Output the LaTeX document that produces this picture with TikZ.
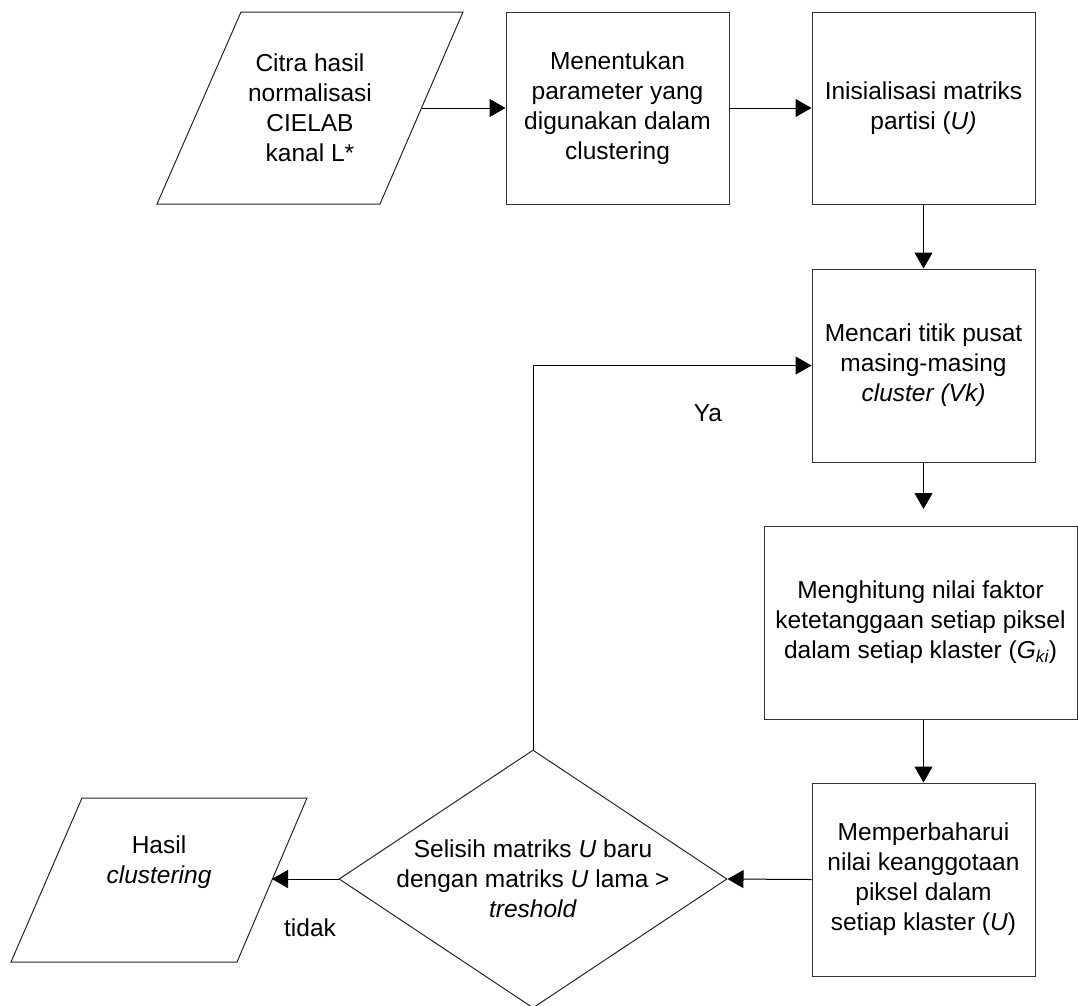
\documentclass[tikz,border=0pt]{standalone}
\usepackage{fontspec}
\setmainfont{Liberation Sans}
\usetikzlibrary{arrows.meta,shapes.geometric}
\begin{document}
\begin{tikzpicture}[x=1pt,y=-1pt,
  lbl/.style={align=center, font=\fontsize{24.5}{30}\selectfont, inner sep=0pt, text=black},
  box/.style={lbl, draw=black!80, line width=1pt, rectangle, inner sep=0pt},
  outline/.style={draw=black!85, line width=1pt, line join=miter},
  conn/.style={draw=black, line width=1pt, -{Triangle[length=16pt,width=18pt]}}]
\useasboundingbox (0,0) rectangle (1078,1005);

% input parallelogram
\coordinate (p1a) at (241,12);
\coordinate (p1b) at (463,12);
\coordinate (p1c) at (380,204);
\coordinate (p1d) at (157,204);
\coordinate (p1e) at (421.5,108);
\draw[outline] (p1a) -- (p1b) -- (p1c) -- (p1d) -- cycle;
\node[lbl] (p1) at (310,108) {Citra hasil\\normalisasi\\CIELAB\\kanal L*};

% process boxes
\node[box, minimum width=223pt, minimum height=192pt] (r2) at (617.5,108)
  {Menentukan\\parameter yang\\digunakan dalam\\clustering};
\node[box, minimum width=223pt, minimum height=192pt] (r3) at (923.5,108)
  {Inisialisasi matriks\\partisi (\textit{U)}};
\node[box, minimum width=223pt, minimum height=193pt] (r4) at (923.5,365.5)
  {Mencari titik pusat\\masing-masing\\\textit{cluster (Vk)}};
\node[box, minimum width=313pt, minimum height=193pt] (r5) at (920.5,622.5)
  {Menghitung nilai faktor\\ketetanggaan setiap piksel\\dalam setiap klaster (\textit{G\textsubscript{ki}})};
\node[box, minimum width=223pt, minimum height=193pt] (r6) at (923.5,879.5)
  {Memperbaharui\\nilai keanggotaan\\piksel dalam\\setiap klaster (\textit{U})};

% decision
\node[diamond, outline, minimum width=388pt, minimum height=258pt, inner sep=0pt] (dia) at (533,879) {};
\node[lbl] (diat) at (533,879)
  {Selisih matriks \textit{U} baru\\dengan matriks \textit{U} lama >\\\textit{treshold}};

% output parallelogram
\coordinate (p2a) at (82,798);
\coordinate (p2b) at (307,798);
\coordinate (p2c) at (237,962);
\coordinate (p2d) at (11,962);
\coordinate (p2e) at (272,879);
\draw[outline] (p2a) -- (p2b) -- (p2c) -- (p2d) -- cycle;
\node[lbl] (p2) at (159,862) {Hasil\\\textit{clustering}};

% connectors
\coordinate (c45) at (923.5,509);
\draw[conn] (p1e) -- (r2.west);
\draw[conn] (r2.east) -- (r3.west);
\draw[conn] (r3.south) -- (r4.north);
\draw[conn] (r4.south) -- (c45);
\draw[conn] (r6.north |- r5.south) -- (r6.north);
\draw[conn] (r6.west) -- (dia.east);
\draw[conn] (dia.west) -- (p2e);
\draw[conn] (dia.north) |- (r4.west);

% labels
\node[lbl] (ya) at (708,413) {Ya};
\node[lbl] (tidak) at (310,928) {tidak};
\end{tikzpicture}
\end{document}
